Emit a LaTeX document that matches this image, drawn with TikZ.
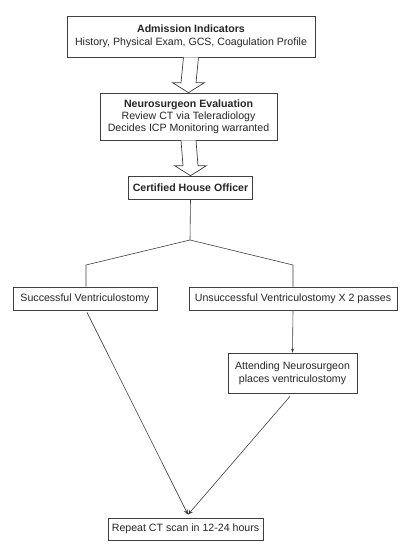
\documentclass[tikz,border=0pt]{standalone}
\usepackage{fontspec}
\setmainfont{Liberation Sans}
\usetikzlibrary{calc,arrows.meta}
\begin{document}
\begin{tikzpicture}[x=1pt,y=-1pt,
  every node/.style={font=\fontsize{10.6}{12.8}\selectfont, text=black!85},
  box/.style={draw=black!75, line width=0.7pt, fill=white, align=center, inner sep=0pt},
  conn/.style={draw=black!75, line width=0.6pt},
  hollow/.style={draw=black!75, line width=0.7pt, fill=white, line join=miter}
]
\path[use as bounding box, fill=white] (0,0) rectangle (408,550);

\node[box, minimum width=248pt, minimum height=41pt] (adm) at (191,36.5)
  {\textbf{Admission Indicators}\\History, Physical Exam, GCS, Coagulation Profile};
\node[box, minimum width=177pt, minimum height=47pt] (neu) at (188.5,116.5)
  {\textbf{Neurosurgeon Evaluation}\\[-1pt]Review CT via Teleradiology\\[-1pt]Decides ICP Monitoring warranted};
\node[box, minimum width=124pt, minimum height=23pt] (cho) at (190.5,187.5)
  {\textbf{Certified House Officer}};
\node[box, minimum width=144pt, minimum height=23pt] (suc) at (85,298.5)
  {Successful Ventriculostomy};
\node[box, minimum width=208pt, minimum height=23pt] (uns) at (293,298.5)
  {Unsuccessful Ventriculostomy X 2 passes};
\node[box, minimum width=129pt, minimum height=40pt] (att) at (292.5,373)
  {Attending Neurosurgeon\\places ventriculostomy};
\node[box, minimum width=155pt, minimum height=22pt] (rep) at (185.5,529)
  {Repeat CT scan in 12-24 hours};

% hollow arrows
\draw[hollow] ($(adm.south)+(-7.5,0)$) -- ($(neu.north)+(-7.5,-10)$) -- ($(neu.north)+(-16,-10)$)
  -- (neu.north) -- ($(neu.north)+(16,-10)$) -- ($(neu.north)+(7.5,-10)$) -- ($(adm.south)+(7.5,0)$);
\draw[hollow] ($(neu.south)+(-7.5,0)$) -- ($(cho.north)+(-7.5,-10)$) -- ($(cho.north)+(-16,-10)$)
  -- (cho.north) -- ($(cho.north)+(16,-10)$) -- ($(cho.north)+(7.5,-10)$) -- ($(neu.south)+(7.5,0)$);

% branching
\coordinate (fork) at (190,240);
\coordinate (lk) at (86,265);
\coordinate (rk) at (293,265);
\draw[conn] (cho.south) -- (fork);
\draw[conn] (fork) -- (lk) -- (lk |- suc.north);
\draw[conn] (fork) -- (rk) -- (rk |- uns.north);

\draw[conn, -{Stealth[length=4pt,width=3pt]}] (uns.south) -- (att.north);
\draw[conn, -{Stealth[length=5pt,width=4pt]}] ($(suc.south)+(2,2)$) -- ($(rep.north)+(2.5,-3)$);
\draw[conn, -{Stealth[length=5pt,width=4pt]}] ($(att.south)+(-2.5,3)$) -- ($(rep.north)+(2.5,-3)$);
\end{tikzpicture}
\end{document}
